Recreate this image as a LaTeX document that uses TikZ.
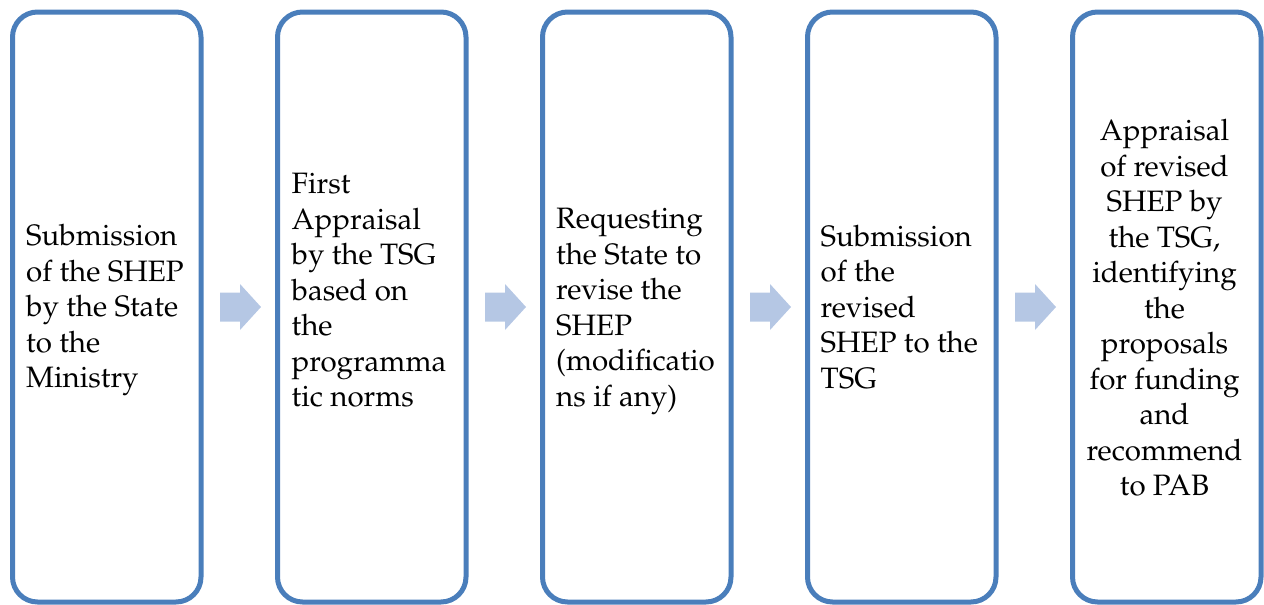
\documentclass[tikz,border=0pt]{standalone}
\usepackage[T1]{fontenc}
\usepackage{mathpazo}
\usetikzlibrary{calc}
\definecolor{boxblue}{HTML}{4A7EBB}
\definecolor{arrowblue}{HTML}{B5C7E4}
\begin{document}
\begin{tikzpicture}[x=1pt,y=-1pt,
  stage/.style={draw=boxblue, line width=5pt, rounded corners=25pt, minimum width=188.5pt, minimum height=590pt, inner sep=0pt, fill=white},
  txt/.style={inner sep=0pt, font=\fontsize{29.5}{35.5}\selectfont, align=left, anchor=north west},
  blockarrow/.style={fill=arrowblue, draw=none}]
\useasboundingbox (0,0) rectangle (1264,605);
\node[stage] (b1) at (106.75,307) {};
\node[stage] (b2) at (371.75,307) {};
\node[stage] (b3) at (636.75,307) {};
\node[stage] (b4) at (901.75,307) {};
\node[stage] (b5) at (1166.75,307) {};
\node[txt] (t1) at (26,220.7) {\rule{0pt}{25pt}Submission\\of the SHEP\\by the State\\to the\\Ministry};
\node[txt] (t2) at (291.5,168.3) {\rule{0pt}{25pt}First\\Appraisal\\by the TSG\\based on\\the\\programma\\tic norms};
\node[txt] (t3) at (556,203.3) {\rule{0pt}{25pt}Requesting\\the State to\\revise the\\SHEP\\(modificatio\\ns if any)};
\node[txt] (t4) at (820.5,221) {\rule{0pt}{25pt}Submission\\of the\\revised\\SHEP to the\\TSG};
\node[txt, anchor=north, align=center] (t5) at (1164.5,115.7) {\rule{0pt}{25pt}Appraisal\\of revised\\SHEP by\\the TSG,\\identifying\\the\\proposals\\for funding\\and\\recommend\\to PAB};
\foreach \a/\b [count=\i] in {b1/b2,b2/b3,b3/b4,b4/b5}{
  \coordinate (m\i) at ($(\a.east)!0.5!(\b.west)$);
  \fill[blockarrow] ($(m\i)+(-19.25,-14.5)$) -- ($(m\i)+(0.75,-14.5)$) -- ($(m\i)+(0.75,-23)$) -- ($(m\i)+(21.75,0)$) -- ($(m\i)+(0.75,23)$) -- ($(m\i)+(0.75,14.5)$) -- ($(m\i)+(-19.25,14.5)$) -- cycle;
}
\end{tikzpicture}
\end{document}
